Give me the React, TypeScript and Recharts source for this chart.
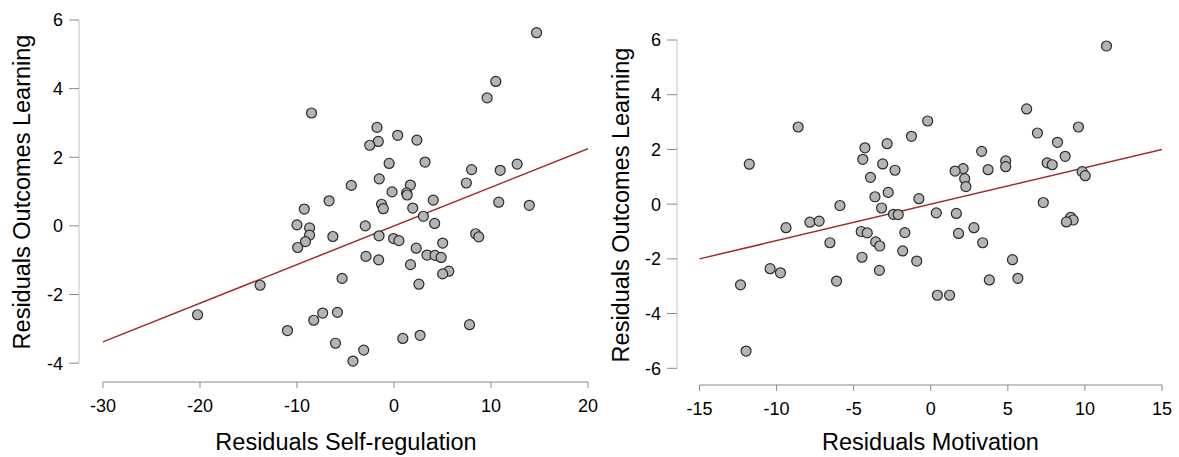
import {
  ScatterChart,
  Scatter,
  XAxis,
  YAxis,
  ReferenceLine,
} from 'recharts'

// ─── data ────────────────────────────────────────────────────
// partial regression: outcomes learning vs self-regulation
const selfRegX = [
  14.7, 10.5, 9.6, -8.5, -1.75, 0.38, -1.62, -2.5, 2.36, -0.5,
  3.2, 12.7, 8.0, 10.95, -1.52, -4.4, 1.69, 7.46, -0.2, 1.3,
  1.36, -6.69, 4.05, -1.28, -1.1, 1.93, 10.8, 13.95, -9.25, 3.03,
  -10.0, -2.96, 4.19, -8.7, -8.7, -6.3, -1.54, 8.42, 8.74, -9.13,
  -0.04, 0.51, 5.02, -9.93, 2.29, -2.89, 3.4, 4.23, 4.86, -1.58,
  1.7, 5.65, 5.02, -5.35, -13.8, 2.57, -20.25, -7.35, -5.83, -8.27,
  7.79, -10.98, 2.69, 0.91, -6.03, -3.12, -4.23,
]
const selfRegY = [
  5.63, 4.21, 3.73, 3.29, 2.87, 2.64, 2.46, 2.35, 2.5, 1.82,
  1.86, 1.8, 1.64, 1.62, 1.37, 1.18, 1.19, 1.25, 0.99, 0.96,
  0.9, 0.73, 0.75, 0.63, 0.5, 0.52, 0.69, 0.6, 0.49, 0.28,
  0.03, 0.0, 0.07, -0.06, -0.27, -0.31, -0.29, -0.23, -0.32, -0.46,
  -0.37, -0.43, -0.5, -0.63, -0.65, -0.89, -0.85, -0.86, -0.92, -0.99,
  -1.13, -1.32, -1.4, -1.53, -1.73, -1.7, -2.59, -2.54, -2.52, -2.75,
  -2.88, -3.05, -3.19, -3.28, -3.42, -3.62, -3.94,
]
const selfRegFitX = [-30, 20]
const selfRegFitY = [-3.38, 2.25]
const selfRegTicksX = [-30, -20, -10, 0, 10, 20]
const selfRegTicksY = [-4, -2, 0, 2, 4, 6]

// outcomes learning vs motivation
const motivX = [
  11.4, 6.22, -0.2, -8.6, 9.58, 6.92, -1.25, -2.83, 8.22, -4.27,
  3.3, 8.72, -4.41, 4.86, -11.77, -3.12, 7.55, 7.88, 4.86, 2.1,
  1.58, 3.72, -2.32, 9.82, 10.02, -3.91, 2.2, 2.28, -3.62, -2.76,
  -0.77, 7.3, -5.89, -3.19, 0.36, 1.66, -2.42, -2.11, -7.84, -7.24,
  9.08, 9.24, 8.8, -9.39, 2.8, -4.51, -4.12, -1.68, 1.8, -6.54,
  -3.57, -3.31, 3.37, -1.82, -4.46, -0.91, 5.3, -10.42, -9.75, -3.33,
  -6.11, 3.8, 5.65, -12.34, 0.43, 1.22, -11.98,
]
const motivY = [
  5.78, 3.48, 3.04, 2.82, 2.82, 2.6, 2.48, 2.21, 2.26, 2.06,
  1.93, 1.75, 1.64, 1.58, 1.46, 1.47, 1.51, 1.44, 1.37, 1.3,
  1.21, 1.26, 1.24, 1.19, 1.04, 0.98, 0.93, 0.64, 0.27, 0.43,
  0.2, 0.06, -0.05, -0.14, -0.32, -0.34, -0.37, -0.38, -0.66, -0.62,
  -0.48, -0.58, -0.65, -0.86, -0.86, -1.0, -1.05, -1.04, -1.07, -1.41,
  -1.38, -1.53, -1.41, -1.71, -1.94, -2.08, -2.03, -2.36, -2.51, -2.42,
  -2.81, -2.77, -2.71, -2.95, -3.33, -3.33, -5.37,
]
const motivFitX = [-15, 15]
const motivFitY = [-2, 2]
const motivTicksX = [-15, -10, -5, 0, 5, 10, 15]
const motivTicksY = [-6, -4, -2, 0, 2, 4, 6]

const Y_TITLE = 'Residuals Outcomes Learning'

const FONT = 'Arial, "Liberation Sans", sans-serif'
const LINE_RED = '#a52a2a'
const AXIS_GRAY = '#8a8a8a'
const TITLE_SIZE = 23.5
const TICK_SIZE = 18

const toPoints = (xs: number[], ys: number[]) => xs.map((x, i) => ({ x, y: ys[i] }))

interface PanelProps {
  readonly xs: number[]
  readonly ys: number[]
  readonly fitX: number[]
  readonly fitY: number[]
  readonly ticksX: number[]
  readonly ticksY: number[]
  readonly xMin: number
  readonly yMin: number
  readonly xTitle: string
  readonly width: number
  readonly margin: { top: number; right: number; bottom: number; left: number }
  readonly yAxisWidth: number
  readonly xAxisHeight: number
  readonly yTitleX: number
  readonly yTitleShift: number
  readonly xTitleShift: number
}

const Dot = (p: any) => (
  <circle cx={p.cx} cy={p.cy} r={5} fill="#b4b4b4" stroke="#2b2b2b" strokeWidth={1.2} />
)

function Panel(props: PanelProps) {
  const {
    xs, ys, fitX, fitY, ticksX, ticksY, xMin, yMin, xTitle, width, margin,
    yAxisWidth, xAxisHeight, yTitleX, yTitleShift, xTitleShift,
  } = props
  const points = toPoints(xs, ys)
  const fit = toPoints(fitX, fitY)
  const xMax = ticksX[ticksX.length - 1]
  const yMax = ticksY[ticksY.length - 1]

  return (
    <ScatterChart width={width} height={457} margin={margin}>
      <XAxis
        dataKey="x"
        type="number"
        domain={[xMin, xMax]}
        ticks={ticksX}
        allowDataOverflow
        axisLine={false}
        tickLine={{ stroke: AXIS_GRAY }}
        tickSize={6}
        tickMargin={11}
        height={xAxisHeight}
        tick={{ fontSize: TICK_SIZE, fill: '#000', fontFamily: FONT }}
        label={(lp: any) => {
          const vb = lp.viewBox
          return (
            <text
              x={vb.x + vb.width / 2 + xTitleShift}
              y={vb.y + vb.height - 7}
              textAnchor="middle"
              fontSize={TITLE_SIZE}
              fontFamily={FONT}
              fill="#000"
            >
              {xTitle}
            </text>
          )
        }}
      />
      <YAxis
        dataKey="y"
        type="number"
        domain={[yMin, yMax]}
        ticks={ticksY}
        allowDataOverflow
        axisLine={false}
        tickLine={{ stroke: AXIS_GRAY }}
        tickSize={10}
        tickMargin={6}
        width={yAxisWidth}
        tick={{ fontSize: TICK_SIZE, fill: '#000', fontFamily: FONT }}
        label={(lp: any) => {
          const vb = lp.viewBox
          const cy = vb.y + vb.height / 2 + yTitleShift
          return (
            <text
              x={yTitleX}
              y={cy}
              transform={`rotate(-90 ${yTitleX} ${cy})`}
              textAnchor="middle"
              fontSize={TITLE_SIZE}
              fontFamily={FONT}
              fill="#000"
            >
              {Y_TITLE}
            </text>
          )
        }}
      />
      {/* R-style axis lines that only span the tick range */}
      <ReferenceLine
        segment={[{ x: ticksX[0], y: yMin }, { x: xMax, y: yMin }]}
        stroke={AXIS_GRAY}
        ifOverflow="visible"
      />
      <ReferenceLine
        segment={[{ x: xMin, y: ticksY[0] }, { x: xMin, y: yMax }]}
        stroke="#c4c4c4"
        ifOverflow="visible"
      />
      <Scatter
        data={fit}
        line={{ stroke: LINE_RED, strokeWidth: 1.5 }}
        shape={() => <g />}
        isAnimationActive={false}
      />
      <Scatter data={points} shape={Dot} isAnimationActive={false} />
    </ScatterChart>
  )
}

export default function App() {
  return (
    <div style={{ position: 'absolute', top: 0, left: 0, width: 1179, height: 457, background: '#fff' }}>
      <div style={{ position: 'absolute', left: 0, top: 0 }}>
        <Panel
          xs={selfRegX}
          ys={selfRegY}
          fitX={selfRegFitX}
          fitY={selfRegFitY}
          ticksX={selfRegTicksX}
          ticksY={selfRegTicksY}
          xMin={-32.47}
          yMin={-4.55}
          xTitle="Residuals Self-regulation"
          width={600}
          margin={{ top: 20, right: 12, bottom: 0, left: 0 }}
          yAxisWidth={79}
          xAxisHeight={75}
          yTitleX={30}
          yTitleShift={-9}
          xTitleShift={12.5}
        />
      </div>
      <div style={{ position: 'absolute', left: 600, top: 0 }}>
        <Panel
          xs={motivX}
          ys={motivY}
          fitX={motivFitX}
          fitY={motivFitY}
          ticksX={motivTicksX}
          ticksY={motivTicksY}
          xMin={-16.46}
          yMin={-6.61}
          xTitle="Residuals Motivation"
          width={579}
          margin={{ top: 40, right: 17, bottom: 0, left: 0 }}
          yAxisWidth={77}
          xAxisHeight={72}
          yTitleX={29}
          yTitleShift={-7.5}
          xTitleShift={11}
        />
      </div>
    </div>
  )
}
